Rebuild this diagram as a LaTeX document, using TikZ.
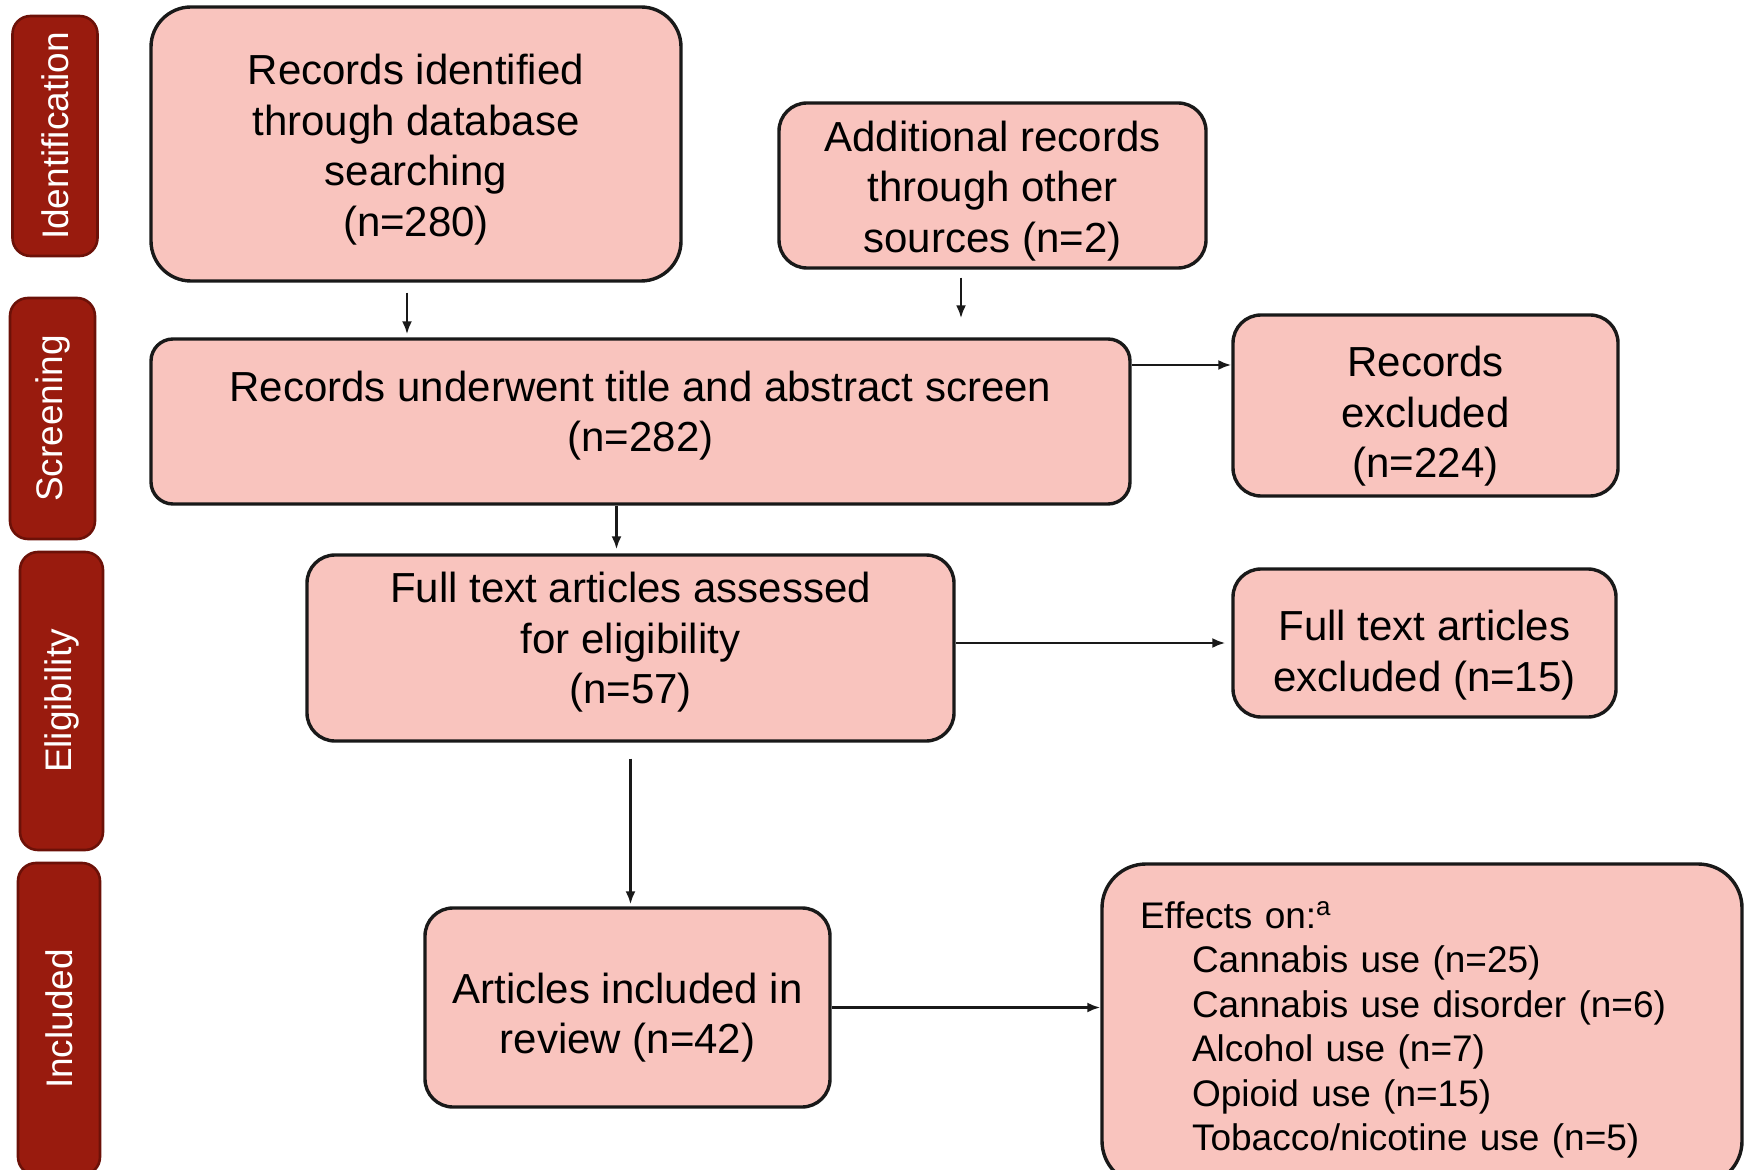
\documentclass[tikz,border=0pt]{standalone}
\usepackage{fontspec}
\setmainfont{Liberation Sans}
\usetikzlibrary{arrows.meta}
\definecolor{boxpink}{HTML}{F9C4BE}
\definecolor{phasered}{HTML}{991B0E}
\definecolor{phaseedge}{HTML}{6C1108}
% lowers the text of a box by half the given amount
\newcommand{\tdown}[1]{\vphantom{\raisebox{#1}{(}}}

\begin{document}
\begin{tikzpicture}[x=0.5pt,y=-0.5pt,
    flowbox/.style={draw=black!90, fill=boxpink, line width=1.7pt,
      rounded corners=14pt, align=center, inner sep=0pt,
      font=\fontsize{21}{25.2}\selectfont},
    textup/.style={execute at end node={\vphantom{\raisebox{-#1}{(}}}},
    phasebox/.style={draw=phaseedge, fill=phasered, line width=1.3pt,
      rounded corners=9pt, inner sep=0pt, text=white,
      font=\fontsize{18.5}{22}\selectfont},
    arr/.style={-{Latex[length=6.5pt,width=5pt]}, line width=1.2pt, black!90}]
  \useasboundingbox (0,0) rectangle (1744,1170);
  \clip (0,0) rectangle (1744,1170);

  % phases
  \node[phasebox, minimum width=42.5pt, minimum height=120pt] (pid) at (55,136)
    {\rotatebox{90}{Identification}};
  \node[phasebox, minimum width=42.5pt, minimum height=120.5pt] (psc) at (52.5,418.5)
    {\rotatebox{90}{Screening}};
  \node[phasebox, minimum width=41.5pt, minimum height=149pt] (pel) at (61.5,701)
    {\rotatebox{90}{Eligibility}};
  \node[phasebox, minimum width=41pt, minimum height=156pt] (pin) at (59,1019)
    {\rotatebox{90}{Included}};

  % flow boxes
  \node[flowbox, rounded corners=20pt, minimum width=265pt,
    minimum height=137pt] (rid) at (416,144)
    {\tdown{5.6pt}Records identified\\through database\\searching\\(n=280)};
  \node[flowbox, minimum width=213.5pt, minimum height=82.5pt]
    (add) at (992.5,185.5)
    {\tdown{5.6pt}Additional records\\through other\\sources (n=2)};
  \node[flowbox, textup=5.6pt, rounded corners=11pt, minimum width=489.5pt,
    minimum height=82.5pt] (scr) at (640.5,421.5)
    {Records underwent title and abstract screen\\(n=282)};
  \node[flowbox, minimum width=192.5pt, minimum height=90.5pt]
    (rex) at (1425.5,405.5)
    {\tdown{11pt}Records\\excluded\\(n=224)};
  \node[flowbox, textup=5.6pt, minimum width=323.5pt, minimum height=93pt]
    (fta) at (630.5,648)
    {Full text articles assessed\\for eligibility\\(n=57)};
  \node[flowbox, minimum width=191.5pt, minimum height=74pt]
    (ftx) at (1424.5,643)
    {\tdown{12pt}Full text articles\\excluded (n=15)};
  \node[flowbox, minimum width=202.5pt, minimum height=99.5pt]
    (inc) at (627.5,1007.5)
    {\tdown{10pt}Articles included in\\review (n=42)};
  \node[flowbox, rounded corners=22pt, minimum width=320pt,
    minimum height=160.5pt, text width=282pt, align=left,
    font=\fontsize{18.5}{22.25}\selectfont]
    (eff) at (1422,1024.5)
    {\tdown{5.6pt}Effects on:\textsuperscript{a}\\
     \hspace*{26pt}Cannabis use (n=25)\\
     \hspace*{26pt}Cannabis use disorder (n=6)\\
     \hspace*{26pt}Alcohol use (n=7)\\
     \hspace*{26pt}Opioid use (n=15)\\
     \hspace*{26pt}Tobacco/nicotine use (n=5)};

  % connectors
  \coordinate (ex1) at (0,365);
  \draw[arr, shorten <=5pt, shorten >=1.5pt]
    ([xshift=-4.5pt]rid.south) -- ([xshift=-4.5pt]rid.south |- scr.north);
  \draw[arr, shorten <=4pt, shorten >=9.5pt]
    ([xshift=-15.75pt]add.south) -- ([xshift=-15.75pt]add.south |- scr.north);
  \draw[arr] (scr.east |- ex1) -- (rex.west |- ex1);
  \draw[arr, shorten >=2pt]
    ([xshift=-12pt]scr.south) -- ([xshift=-12pt]scr.south |- fta.north);
  \draw[arr, shorten >=3pt] (fta.east |- ftx.west) -- (ftx.west);
  \draw[arr, shorten <=8pt, shorten >=1pt] (fta.south) -- (fta.south |- inc.north);
  \draw[arr] (inc.east) -- (inc.east -| eff.west);
\end{tikzpicture}
\end{document}
